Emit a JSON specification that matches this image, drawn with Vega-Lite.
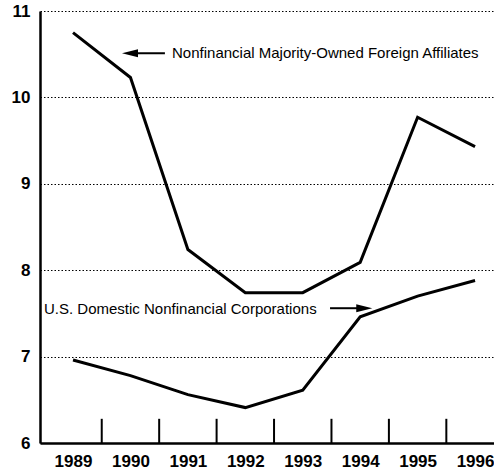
{
  "$schema": "https://vega.github.io/schema/vega-lite/v6.json",
  "autosize": "none",
  "width": 454,
  "height": 432,
  "padding": {"left": 40, "top": 11, "right": 0, "bottom": 27},
  "config": {
    "view": {"stroke": null},
    "font": "Liberation Sans",
    "axis": {"labelColor": "#000", "domainColor": "#000"}
  },
  "datasets": {
    "series": [
      {"year": 1989, "series": "Nonfinancial Majority-Owned Foreign Affiliates", "value": 10.75},
      {"year": 1990, "series": "Nonfinancial Majority-Owned Foreign Affiliates", "value": 10.23},
      {"year": 1991, "series": "Nonfinancial Majority-Owned Foreign Affiliates", "value": 8.24},
      {"year": 1992, "series": "Nonfinancial Majority-Owned Foreign Affiliates", "value": 7.74},
      {"year": 1993, "series": "Nonfinancial Majority-Owned Foreign Affiliates", "value": 7.74},
      {"year": 1994, "series": "Nonfinancial Majority-Owned Foreign Affiliates", "value": 8.09},
      {"year": 1995, "series": "Nonfinancial Majority-Owned Foreign Affiliates", "value": 9.77},
      {"year": 1996, "series": "Nonfinancial Majority-Owned Foreign Affiliates", "value": 9.43},
      {"year": 1989, "series": "U.S. Domestic Nonfinancial Corporations", "value": 6.96},
      {"year": 1990, "series": "U.S. Domestic Nonfinancial Corporations", "value": 6.78},
      {"year": 1991, "series": "U.S. Domestic Nonfinancial Corporations", "value": 6.56},
      {"year": 1992, "series": "U.S. Domestic Nonfinancial Corporations", "value": 6.41},
      {"year": 1993, "series": "U.S. Domestic Nonfinancial Corporations", "value": 6.61},
      {"year": 1994, "series": "U.S. Domestic Nonfinancial Corporations", "value": 7.46},
      {"year": 1995, "series": "U.S. Domestic Nonfinancial Corporations", "value": 7.70},
      {"year": 1996, "series": "U.S. Domestic Nonfinancial Corporations", "value": 7.88}
    ],
    "ticks": [
      {"t": 1989.5}, {"t": 1990.5}, {"t": 1991.5}, {"t": 1992.5},
      {"t": 1993.5}, {"t": 1994.5}, {"t": 1995.5}
    ],
    "labels": [
      {"x": 1990.724, "y": 10.51, "text": "Nonfinancial Majority-Owned Foreign Affiliates"},
      {"x": 1988.495, "y": 7.55, "text": "U.S. Domestic Nonfinancial Corporations"}
    ],
    "arrows": [
      {"x": 1990.60, "x2": 1990.0, "tip": 1989.853, "y": 10.51, "dir": "left"},
      {"x": 1993.475, "x2": 1994.0, "tip": 1994.21, "y": 7.56, "dir": "right"}
    ]
  },
  "layer": [
    {
      "data": {"name": "ticks"},
      "mark": {"type": "rule", "color": "#000", "strokeWidth": 2},
      "encoding": {
        "x": {"field": "t", "type": "quantitative", "scale": {"domain": [1988.425, 1996.33], "nice": false, "zero": false}},
        "y": {"datum": 6},
        "y2": {"datum": 6.28}
      }
    },
    {
      "data": {"name": "series"},
      "mark": {"type": "line", "color": "#000", "strokeWidth": 3, "strokeJoin": "miter"},
      "encoding": {
        "x": {
          "field": "year", "type": "quantitative",
          "scale": {"domain": [1988.425, 1996.33], "nice": false, "zero": false},
          "axis": {
            "title": null, "values": [1989, 1990, 1991, 1992, 1993, 1994, 1995, 1996],
            "format": "d", "tickSize": 0, "labelFontSize": 17, "labelFontWeight": "bold",
            "labelPadding": 10, "domainWidth": 2.5, "grid": false, "labelFlush": false
          }
        },
        "y": {
          "field": "value", "type": "quantitative",
          "scale": {"domain": [6, 11], "nice": false, "zero": false},
          "axis": {
            "title": null, "values": [6, 7, 8, 9, 10, 11], "format": "d", "tickSize": 0,
            "labelFontSize": 17, "labelFontWeight": "bold", "labelPadding": 10,
            "domainWidth": 2.5, "grid": true, "gridDash": [1.5, 2], "gridColor": "#000",
            "gridWidth": 1, "labelFlush": false
          }
        },
        "detail": {"field": "series"}
      }
    },
    {
      "mark": {"type": "rule", "color": "#000", "strokeWidth": 1.5},
      "encoding": {"y": {"datum": 11}}
    },
    {
      "data": {"name": "arrows"},
      "mark": {"type": "rule", "color": "#000", "strokeWidth": 2},
      "encoding": {
        "x": {"field": "x", "type": "quantitative"},
        "x2": {"field": "x2"},
        "y": {"field": "y", "type": "quantitative"}
      }
    },
    {
      "data": {"name": "arrows"},
      "transform": [{"filter": "datum.dir == 'left'"}],
      "mark": {"type": "point", "filled": true, "color": "#000", "opacity": 1, "size": 256, "shape": "M0,0L2,-0.5L2,0.5Z"},
      "encoding": {
        "x": {"field": "tip", "type": "quantitative"},
        "y": {"field": "y", "type": "quantitative"}
      }
    },
    {
      "data": {"name": "arrows"},
      "transform": [{"filter": "datum.dir == 'right'"}],
      "mark": {"type": "point", "filled": true, "color": "#000", "opacity": 1, "size": 256, "shape": "M0,0L-2,-0.5L-2,0.5Z"},
      "encoding": {
        "x": {"field": "tip", "type": "quantitative"},
        "y": {"field": "y", "type": "quantitative"}
      }
    },
    {
      "data": {"name": "labels"},
      "mark": {"type": "text", "align": "left", "baseline": "middle", "fontSize": 15, "color": "#000", "font": "Liberation Sans"},
      "encoding": {
        "x": {"field": "x", "type": "quantitative"},
        "y": {"field": "y", "type": "quantitative"},
        "text": {"field": "text"}
      }
    }
  ]
}
